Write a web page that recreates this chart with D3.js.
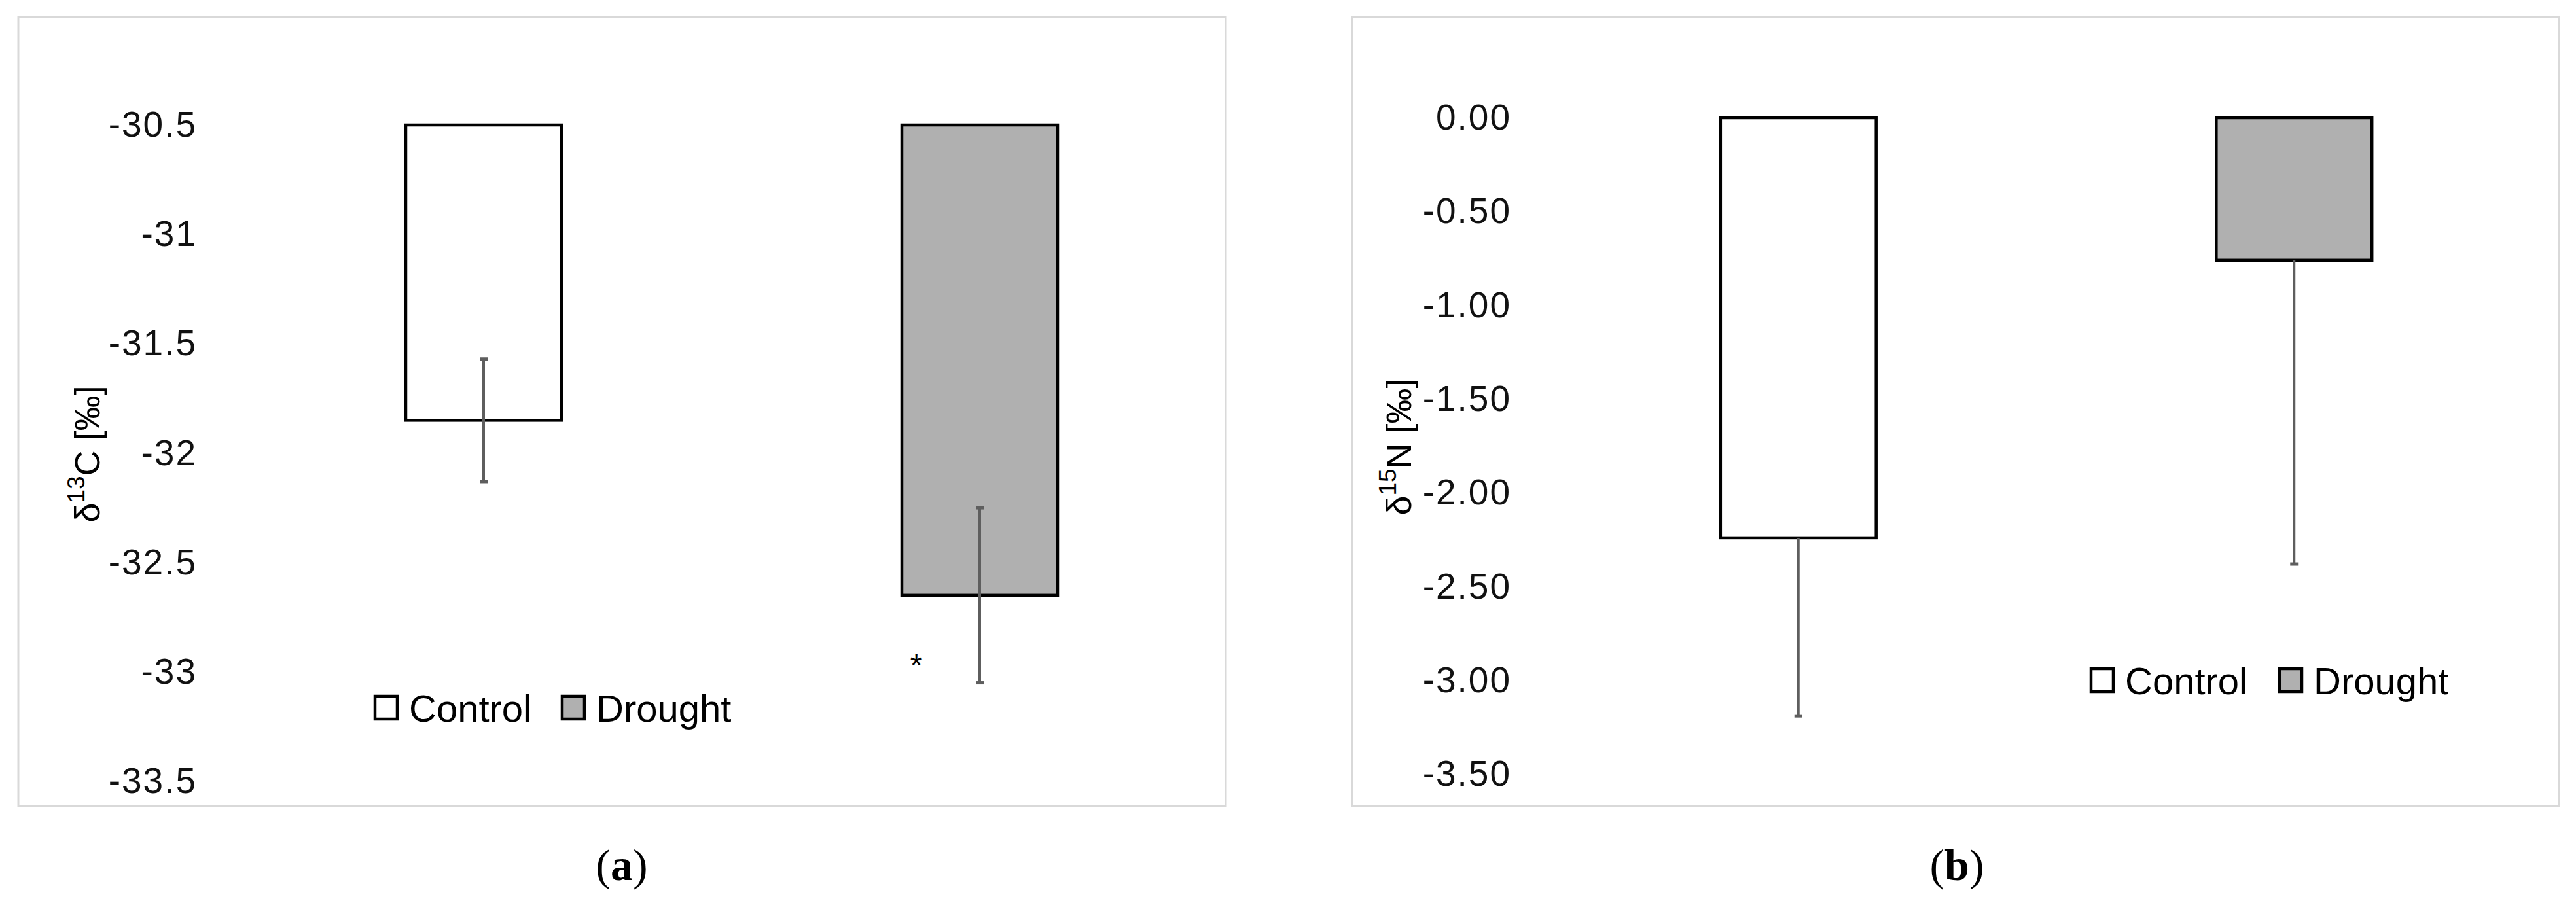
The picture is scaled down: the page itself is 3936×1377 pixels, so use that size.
<!DOCTYPE html>
<html>
<head>
<meta charset="utf-8">
<script src="https://cdn.jsdelivr.net/npm/d3@7"></script>
<style>
  html, body { margin: 0; padding: 0; background: #fff; }
  svg { display: block; }
</style>
</head>
<body>
<script>
// ---------------- DATA ----------------
const categories = ["Control", "Drought"];
const fills = ["#ffffff", "#b0b0b0"];

// Panel (a): δ13C
const d13C = [-31.85, -32.65];
const d13CErr = [0.28, 0.40];
const ticksA = [-30.5, -31, -31.5, -32, -32.5, -33, -33.5];
const tickLabelsA = ["-30.5", "-31", "-31.5", "-32", "-32.5", "-33", "-33.5"];
const signifA = ["", "*"];

// Panel (b): δ15N
const d15N = [-2.24, -0.76];
const d15NErr = [0.95, 1.62];
const ticksB = [0, -0.5, -1, -1.5, -2, -2.5, -3, -3.5];
const tickLabelsB = ["0.00", "-0.50", "-1.00", "-1.50", "-2.00", "-2.50", "-3.00", "-3.50"];

// ---------------- DRAW ----------------
const W = 3936, H = 1377;
const svg = d3.select("body").append("svg").attr("width", W).attr("height", H);

function panel(cfg) {
  const g = svg.append("g");
  // frame
  g.append("rect")
    .attr("x", cfg.frame[0]).attr("y", cfg.frame[1])
    .attr("width", cfg.frame[2]).attr("height", cfg.frame[3])
    .attr("fill", "#fff").attr("stroke", "#d9d9d9").attr("stroke-width", 3);

  const x = d3.scaleBand().domain(categories).range(cfg.xRange)
    .paddingInner(0.686).paddingOuter(0.343);
  const y = d3.scaleLinear().domain(cfg.yDomain).range(cfg.yRange);

  // axis
  const labelMap = new Map(cfg.ticks.map((t, i) => [t, cfg.tickLabels[i]]));
  const ax = g.append("g").attr("transform", `translate(${cfg.axisX},0)`)
    .call(d3.axisLeft(y).tickValues(cfg.ticks).tickSize(0).tickPadding(0)
      .tickFormat(d => labelMap.get(d)));
  ax.select(".domain").remove();
  ax.selectAll("text")
    .attr("font-family", "'Liberation Sans', Arial, sans-serif")
    .attr("font-size", 55).attr("letter-spacing", 2).attr("fill", "#111");

  const top = cfg.yDomain[1];
  const data = categories.map((c, i) => ({ c, v: cfg.values[i], e: cfg.errs[i], fill: fills[i] }));

  // bars
  g.selectAll(".bar").data(data).join("rect")
    .attr("x", d => x(d.c)).attr("width", x.bandwidth())
    .attr("y", y(top)).attr("height", d => y(d.v) - y(top))
    .attr("fill", d => d.fill).attr("stroke", "#000").attr("stroke-width", 4.5);

  // error bars
  const eb = g.selectAll(".eb").data(data).join("g");
  const lo = d => d.v - d.e;
  const hi = d => cfg.errBoth ? d.v + d.e : d.v;
  const cx = d => x(d.c) + x.bandwidth() / 2;
  eb.append("line")
    .attr("x1", cx).attr("x2", cx).attr("y1", d => y(hi(d))).attr("y2", d => y(lo(d)))
    .attr("stroke", "#5e5e5e").attr("stroke-width", 4);
  eb.append("line")
    .attr("x1", d => cx(d) - 6).attr("x2", d => cx(d) + 6)
    .attr("y1", d => y(lo(d))).attr("y2", d => y(lo(d)))
    .attr("stroke", "#5e5e5e").attr("stroke-width", 5);
  if (cfg.errBoth) {
    eb.append("line")
      .attr("x1", d => cx(d) - 6).attr("x2", d => cx(d) + 6)
      .attr("y1", d => y(hi(d))).attr("y2", d => y(hi(d)))
      .attr("stroke", "#5e5e5e").attr("stroke-width", 5);
  }

  // significance marks
  if (cfg.signif) {
    g.selectAll(".sig").data(data).join("text")
      .attr("x", d => x(d.c) + 22)
      .attr("y", d => y(cfg.sigY) + 6)
      .attr("text-anchor", "middle")
      .attr("font-family", "'Liberation Sans', Arial, sans-serif")
      .attr("font-size", 48).attr("fill", "#000")
      .text((d, i) => cfg.signif[i]);
  }

  // y title
  const t = g.append("text")
    .attr("transform", `translate(${cfg.titlePos[0]},${cfg.titlePos[1]}) rotate(-90)`)
    .attr("text-anchor", "middle").attr("dominant-baseline", "central")
    .attr("font-family", "'Liberation Sans', Arial, sans-serif")
    .attr("font-size", 54).attr("fill", "#000");
  t.append("tspan").text("δ");
  t.append("tspan").attr("font-size", 37).attr("dy", -17).text(cfg.iso);
  t.append("tspan").attr("dy", 17).text(cfg.elem + " [‰]");

  // legend
  const lg = g.append("g").attr("transform", `translate(${cfg.legend[0]},${cfg.legend[1]})`);
  const li = lg.selectAll("g").data(data).join("g")
    .attr("transform", (d, i) => `translate(${i * cfg.legendStep},0)`);
  li.append("rect").attr("x", 0).attr("y", -18).attr("width", 34).attr("height", 35)
    .attr("fill", d => d.fill).attr("stroke", "#000").attr("stroke-width", 4.5);
  li.append("text").attr("x", 52).attr("y", 0).attr("dominant-baseline", "central")
    .attr("font-family", "'Liberation Sans', Arial, sans-serif")
    .attr("font-size", 58).attr("fill", "#000")
    .text(d => d.c);

  // panel label
  const pl = svg.append("text")
    .attr("x", cfg.labelX).attr("y", 1345).attr("text-anchor", "middle")
    .attr("font-family", "'Liberation Serif', 'Times New Roman', serif")
    .attr("font-size", 68).attr("fill", "#000");
  pl.append("tspan").text("(");
  pl.append("tspan").attr("font-weight", "bold").text(cfg.letter);
  pl.append("tspan").text(")");
}

panel({
  frame: [28, 26, 1845, 1206],
  xRange: [360, 1876],
  yDomain: [-33.5, -30.5],
  yRange: [1194, 191],
  axisX: 301,
  ticks: ticksA, tickLabels: tickLabelsA,
  values: d13C, errs: d13CErr, errBoth: true,
  signif: signifA, sigY: -33.0,
  titlePos: [133, 694], iso: "13", elem: "C",
  legend: [573, 1082], legendStep: 286,
  labelX: 950, letter: "a"
});

panel({
  frame: [2066, 26, 1844, 1206],
  xRange: [2369, 3884],
  yDomain: [-3.5, 0],
  yRange: [1183, 180],
  axisX: 2309,
  ticks: ticksB, tickLabels: tickLabelsB,
  values: d15N, errs: d15NErr, errBoth: false,
  signif: null,
  titlePos: [2137, 683], iso: "15", elem: "N",
  legend: [3195, 1040], legendStep: 288,
  labelX: 2990, letter: "b"
});
</script>
</body>
</html>
